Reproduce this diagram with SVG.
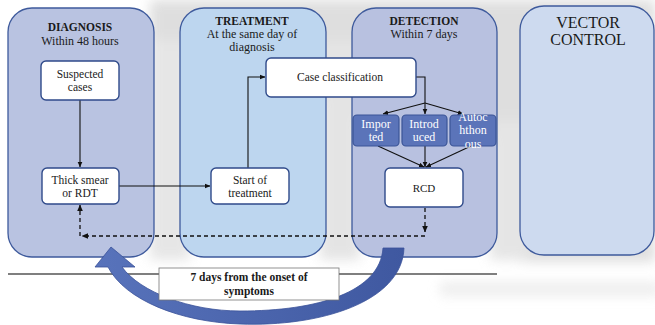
<svg xmlns="http://www.w3.org/2000/svg" width="655" height="325" viewBox="0 0 655 325">
<defs>
<marker id="ah" viewBox="0 0 8 8" refX="7.5" refY="4" markerWidth="5" markerHeight="5" orient="auto" markerUnits="strokeWidth">
<path d="M0,0.5 L8,4 L0,7.5 z" fill="#111"/>
</marker>
<filter id="blur" x="-20%" y="-20%" width="140%" height="140%"><feGaussianBlur stdDeviation="6"/></filter>
<linearGradient id="arrowg" x1="0" y1="0" x2="1" y2="0">
<stop offset="0" stop-color="#5873bb"/>
<stop offset="1" stop-color="#3f58a0"/>
</linearGradient>
</defs>
<style>
.panel{stroke:#3e5a9c;stroke-width:1.3}
.box{fill:#fff;stroke:#2f4a8a;stroke-width:1.4}
.sbox{fill:#5b74b9;stroke:#3b5597;stroke-width:1.2}
.t{font-family:"Liberation Serif","Times New Roman",serif;fill:#1a1a1a;text-anchor:middle}
.h{font-weight:bold;font-size:11.5px}
.s{font-size:12px}
.b{font-size:11.5px}
.w{font-size:12px;fill:#fff}
.ln{fill:none;stroke:#111;stroke-width:1.1}
.dash{fill:none;stroke:#111;stroke-width:1.3;stroke-dasharray:4,3}
</style>
<rect width="655" height="325" fill="#fff"/>
<g id="background" filter="url(#blur)" opacity="0.55">
<path d="M150,0 L655,0 L655,262 L520,262 L500,150 L470,130 L330,120 L300,70 L250,40 L150,60 z" fill="#c4c4c4"/>
<rect x="150" y="40" width="40" height="220" fill="#d2d2d2"/>
<rect x="320" y="40" width="40" height="220" fill="#cfcfcf"/>
<rect x="490" y="120" width="40" height="140" fill="#d0d0d0"/>
<rect x="440" y="282" width="220" height="14" fill="#e0e0e0"/>
</g>

<g id="diagnosis">
<rect class="panel" x="8" y="8" width="146" height="249" rx="24" fill="#b9c3e1"/>
<text class="t h" x="80" y="31">DIAGNOSIS</text>
<text class="t s" x="80" y="45">Within 48 hours</text>
</g>
<g id="treatment">
<rect class="panel" x="180" y="8" width="146" height="249" rx="24" fill="#bdd6ef"/>
<text class="t h" x="252" y="25">TREATMENT</text>
<text class="t s" x="252" y="38">At the same day of</text>
<text class="t s" x="252" y="51">diagnosis</text>
</g>
<g id="detection">
<rect class="panel" x="352" y="8" width="145" height="249" rx="24" fill="#b8c1e0"/>
<text class="t h" x="424" y="25">DETECTION</text>
<text class="t s" x="424" y="38">Within 7 days</text>
</g>
<g id="vector-control">
<rect class="panel" x="520" y="6" width="134" height="249" rx="24" fill="#cddaef"/>
<text class="t" x="588" y="28" font-size="16">VECTOR</text>
<text class="t" x="588" y="45" font-size="16">CONTROL</text>
</g>

<g id="connectors">
<path class="ln" d="M80,100 V167" marker-end="url(#ah)"/>
<path class="ln" d="M119,186 H210" marker-end="url(#ah)"/>
<path class="ln" d="M248,168 V77 H265" marker-end="url(#ah)"/>
<path class="ln" d="M416,77 H425 V103"/>
<path class="ln" d="M425,103 L383,114" marker-end="url(#ah)"/>
<path class="ln" d="M425,103 V114" marker-end="url(#ah)"/>
<path class="ln" d="M425,103 L463,114" marker-end="url(#ah)"/>
<path class="ln" d="M378,146 L424,167" marker-end="url(#ah)"/>
<path class="ln" d="M425,146 V167" marker-end="url(#ah)"/>
<path class="ln" d="M471,146 L426,167" marker-end="url(#ah)"/>
<path class="dash" d="M425,208 V232" marker-end="url(#ah)"/>
<path class="dash" d="M425,236 H82" marker-end="url(#ah)"/>
<path class="dash" d="M80,236 V205" marker-end="url(#ah)"/>
<path d="M8,274 H497" stroke="#555" stroke-width="1.3" fill="none"/>
<path id="big-arrow" d="M404,248 C402,302 320,327 240,324 C180,322 125,300 108,267 L95,267 L111,247 L135,267 L122,267 C140,292 190,311 240,311 C318,311 380,292 383,248 Z" fill="url(#arrowg)" stroke="#3a5299" stroke-width="0.8"/>
</g>

<g id="suspected-cases">
<rect class="box" x="41" y="61" width="78" height="39" rx="5"/>
<text class="t b" x="80" y="78">Suspected</text>
<text class="t b" x="80" y="91">cases</text>
</g>
<g id="thick-smear">
<rect class="box" x="42" y="168" width="77" height="36" rx="5"/>
<text class="t b" x="80" y="184">Thick smear</text>
<text class="t b" x="80" y="197">or RDT</text>
</g>
<g id="start-treatment">
<rect class="box" x="211" y="168" width="78" height="36" rx="5"/>
<text class="t b" x="250" y="184">Start of</text>
<text class="t b" x="250" y="197">treatment</text>
</g>
<g id="case-classification">
<rect class="box" x="266" y="58" width="150" height="39" rx="5" stroke-width="2" stroke="#111"/>
<text class="t b" x="340" y="81">Case classification</text>
</g>
<g id="imported">
<rect class="sbox" x="353" y="115" width="46" height="31" rx="4"/>
<text class="t w" x="376" y="128">Impor</text>
<text class="t w" x="376" y="141">ted</text>
</g>
<g id="introduced">
<rect class="sbox" x="402" y="115" width="45" height="31" rx="4"/>
<text class="t w" x="424" y="128">Introd</text>
<text class="t w" x="424" y="141">uced</text>
</g>
<g id="autochthonous">
<rect class="sbox" x="450" y="115" width="46" height="31" rx="4"/>
<text class="t w" x="473" y="121">Autoc</text>
<text class="t w" x="473" y="134">hthon</text>
<text class="t w" x="473" y="148">ous</text>
</g>
<g id="rcd">
<rect class="box" x="385" y="168" width="78" height="39" rx="5"/>
<text class="t" x="424" y="192" font-size="11">RCD</text>
</g>
<g id="onset-label">
<rect x="159" y="268" width="180" height="32" fill="#fff" stroke="#777" stroke-width="0.8"/>
<text class="t h" x="249" y="281">7 days from the onset of</text>
<text class="t h" x="249" y="295">symptoms</text>
</g>
</svg>
